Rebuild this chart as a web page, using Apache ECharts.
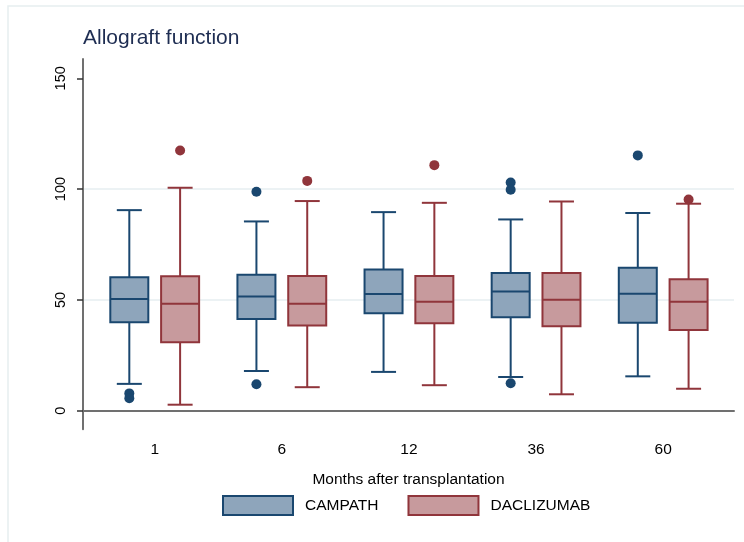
<!DOCTYPE html>
<html lang="en">
<head>
    <meta charset="UTF-8">
    <title>Allograft function</title>
    <style>
        html,body{margin:0;padding:0;background:#fff;}
        #boxChart{width:744px;height:542px;}
    </style>
</head>
<body>
<div id="boxChart"></div>
<script src="https://cdn.jsdelivr.net/npm/echarts@6/dist/echarts.min.js"></script>
<script>
    // months after transplantation
    let months = ['1', '6', '12', '36', '60'];
    // [lower whisker, Q1, median, Q3, upper whisker]
    let campathStats = [
        [12.1, 39.9, 50.4, 60.2, 90.5],
        [17.9, 41.4, 51.5, 61.3, 85.4],
        [17.5, 44.0, 52.6, 63.7, 89.6],
        [15.2, 42.2, 53.8, 62.1, 86.3],
        [15.5, 39.7, 52.8, 64.5, 89.2]
    ];
    let daclizumabStats = [
        [2.7, 30.9, 48.3, 60.7, 100.6],
        [10.6, 38.4, 48.2, 60.8, 94.6],
        [11.5, 39.5, 49.2, 60.8, 93.8],
        [7.4, 38.1, 50.1, 62.1, 94.4],
        [9.9, 36.4, 49.2, 59.3, 93.4]
    ];
    // [month index, value]
    let campathOutliers = [[0, 7.8], [0, 5.6], [1, 98.8], [1, 11.9], [3, 103.0], [3, 99.7], [3, 12.4], [4, 115.2]];
    let daclizumabOutliers = [[0, 117.4], [1, 103.7], [2, 110.8], [4, 95.3]];
    let yTicks = [0, 50, 100, 150];
    let yGrid = [0, 50, 100];

    let font = '"Liberation Sans", Arial, sans-serif';
    let navy = '#1a476f', navyFill = '#8ea5bb';
    let maroon = '#90353b', maroonFill = '#c79a9d';
    let yMin = -8.4, yMax = 158.7;

    function boxItem(offset, stroke, fill) {
        return function (params, api) {
            let idx = api.value(0);
            let lw = api.coord([idx, api.value(1)]);
            let q1 = api.coord([idx, api.value(2)]);
            let md = api.coord([idx, api.value(3)]);
            let q3 = api.coord([idx, api.value(4)]);
            let uw = api.coord([idx, api.value(5)]);
            let x = lw[0] + offset;
            let hb = 19, hc = 12.5;
            let line = {stroke: stroke, lineWidth: 2};
            return {
                type: 'group',
                children: [
                    {type: 'line', shape: {x1: x, y1: uw[1], x2: x, y2: q3[1]}, style: line},
                    {type: 'line', shape: {x1: x, y1: q1[1], x2: x, y2: lw[1]}, style: line},
                    {type: 'line', shape: {x1: x - hc, y1: uw[1], x2: x + hc, y2: uw[1]}, style: line},
                    {type: 'line', shape: {x1: x - hc, y1: lw[1], x2: x + hc, y2: lw[1]}, style: line},
                    {type: 'rect', shape: {x: x - hb, y: q3[1], width: hb * 2, height: q1[1] - q3[1]},
                        style: {fill: fill, stroke: stroke, lineWidth: 2}},
                    {type: 'line', shape: {x1: x - hb, y1: md[1], x2: x + hb, y2: md[1]}, style: line}
                ]
            };
        };
    }

    let myChart = echarts.init(document.getElementById('boxChart'));
    let option = {
        animation: false,
        title: {
            text: 'Allograft function',
            left: 83,
            top: 28,
            padding: 0,
            textStyle: {fontFamily: font, fontSize: 21, fontWeight: 'normal', color: '#1e2d52'}
        },
        legend: {
            left: 222,
            top: 495,
            padding: 0,
            itemWidth: 70,
            itemHeight: 19,
            itemGap: 29,
            textStyle: {fontFamily: font, fontSize: 15.5, color: '#000', padding: [0, 0, 0, 7]},
            data: [
                {name: 'CAMPATH', icon: 'rect', itemStyle: {color: navyFill, borderColor: navy, borderWidth: 2}},
                {name: 'DACLIZUMAB', icon: 'rect', itemStyle: {color: maroonFill, borderColor: maroon, borderWidth: 2}}
            ]
        },
        graphic: [{
            type: 'rect',
            shape: {x: 8, y: 6, width: 760, height: 560},
            style: {fill: 'none', stroke: '#e6eef0', lineWidth: 1.5},
            silent: true
        }],
        grid: [
            {left: 83, right: 10, top: 59, bottom: 112.7},
            {left: 91.15, right: 17.25, top: 59, bottom: 112.7}
        ],
        xAxis: [
            {
                gridIndex: 0, type: 'value', min: 0, max: 1,
                axisLine: {show: true, lineStyle: {color: '#707070', width: 2}},
                axisTick: {show: false}, axisLabel: {show: false}, splitLine: {show: false},
                name: 'Months after transplantation',
                nameLocation: 'middle',
                nameGap: 42,
                nameTextStyle: {fontFamily: font, fontSize: 15.5, color: '#000'}
            },
            {
                gridIndex: 1, type: 'category', data: months,
                axisLine: {show: false}, axisTick: {show: false},
                axisLabel: {fontFamily: font, fontSize: 15.5, color: '#000', margin: 12},
                splitLine: {show: false}
            }
        ],
        yAxis: [
            {
                gridIndex: 0, type: 'value', min: yMin, max: yMax,
                axisLine: {show: true, lineStyle: {color: '#707070', width: 2}},
                axisTick: {show: true, length: 6, customValues: yTicks, lineStyle: {color: '#333', width: 1.5}},
                axisLabel: {customValues: yTicks, rotate: 90, margin: 15, fontFamily: font, fontSize: 14.5, color: '#000'},
                splitLine: {show: false}
            },
            {
                gridIndex: 0, type: 'value', min: yMin, max: yMax,
                axisLine: {show: false},
                axisTick: {show: false, customValues: yGrid},
                axisLabel: {show: false, customValues: yGrid},
                splitLine: {show: true, lineStyle: {color: '#e6eef0', width: 1.6}}
            },
            {
                gridIndex: 1, type: 'value', min: yMin, max: yMax, show: false
            }
        ],
        series: [
            {
                name: 'CAMPATH', type: 'custom', xAxisIndex: 1, yAxisIndex: 2,
                itemStyle: {color: navyFill},
                renderItem: boxItem(-25.4, navy, navyFill),
                data: campathStats.map(function (s, i) { return [i].concat(s); })
            },
            {
                name: 'DACLIZUMAB', type: 'custom', xAxisIndex: 1, yAxisIndex: 2,
                itemStyle: {color: maroonFill},
                renderItem: boxItem(25.4, maroon, maroonFill),
                data: daclizumabStats.map(function (s, i) { return [i].concat(s); })
            },
            {
                name: 'CAMPATH outliers', type: 'scatter', xAxisIndex: 1, yAxisIndex: 2,
                symbolSize: 10, symbolOffset: [-25.4, 0],
                itemStyle: {color: navy, opacity: 1},
                data: campathOutliers
            },
            {
                name: 'DACLIZUMAB outliers', type: 'scatter', xAxisIndex: 1, yAxisIndex: 2,
                symbolSize: 10, symbolOffset: [25.4, 0],
                itemStyle: {color: maroon, opacity: 1},
                data: daclizumabOutliers
            }
        ]
    };
    myChart.setOption(option);
</script>
</body>
</html>
